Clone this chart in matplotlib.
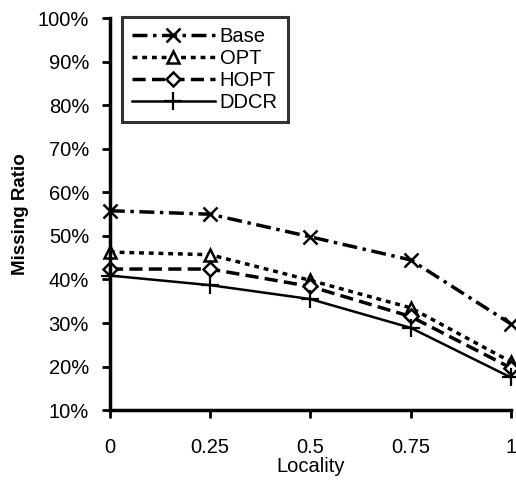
import numpy as np
import matplotlib.pyplot as plt
from matplotlib.ticker import FuncFormatter

plt.rcParams['font.family'] = ['Liberation Sans', 'DejaVu Sans']

# --- data ---
locality = [0, 0.25, 0.5, 0.75, 1]
base = [55.8, 55.0, 49.8, 44.5, 29.8]
opt = [46.3, 45.7, 39.8, 33.5, 21.1]
hopt = [42.4, 42.4, 38.4, 31.5, 19.7]
ddcr = [40.9, 38.7, 35.5, 28.9, 17.5]

fig = plt.figure(figsize=(5.16, 4.83), dpi=100)
ax = fig.add_axes([0.213, 0.151, 0.777, 0.811])

ax.plot(locality, base, color='black', lw=2.5, linestyle=(0, (4.3, 1.6, 1, 1.6)),
        marker='x', ms=10, mew=1.8, label='Base', clip_on=False)
ax.plot(locality, opt, color='black', lw=2.5, linestyle=(0, (1.4, 1.4)),
        marker='^', ms=9, mfc='white', mew=1.8, label='OPT', clip_on=False)
ax.plot(locality, hopt, color='black', lw=2.5, linestyle=(0, (3.8, 1.8)),
        marker='D', ms=7, mfc='white', mew=1.8, label='HOPT', clip_on=False)
ax.plot(locality, ddcr, color='black', lw=1.8, linestyle='-',
        marker='+', ms=13, mew=1.6, label='DDCR', clip_on=False)

ax.set_xlim(0, 1)
ax.set_ylim(10, 100)
ax.set_xticks(locality)
ax.set_xticklabels(['0', '0.25', '0.5', '0.75', '1'])
ax.set_yticks(np.arange(10, 101, 10))
ax.yaxis.set_major_formatter(FuncFormatter(lambda v, p: f"{int(v)}%"))

for s in ['top', 'right']:
    ax.spines[s].set_visible(False)
for s in ['left', 'bottom']:
    ax.spines[s].set_linewidth(2.5)
ax.tick_params(width=2, length=6, labelsize=14.5)
ax.tick_params(axis='y', pad=9)
ax.tick_params(axis='x', pad=14)

ax.set_xlabel('Locality', fontsize=14.5, labelpad=0)
ax.set_ylabel('Missing Ratio', fontsize=13.5, fontweight='bold', labelpad=6)

leg = ax.legend(loc='upper left', bbox_to_anchor=(0.02, 1.015), fontsize=14.5,
                frameon=True, fancybox=False, edgecolor='black',
                handlelength=4.1, handletextpad=0.25, borderpad=0.5,
                labelspacing=0.15, borderaxespad=0.2)
leg.get_frame().set_linewidth(2.2)

fig.savefig('out.png', dpi=100)
